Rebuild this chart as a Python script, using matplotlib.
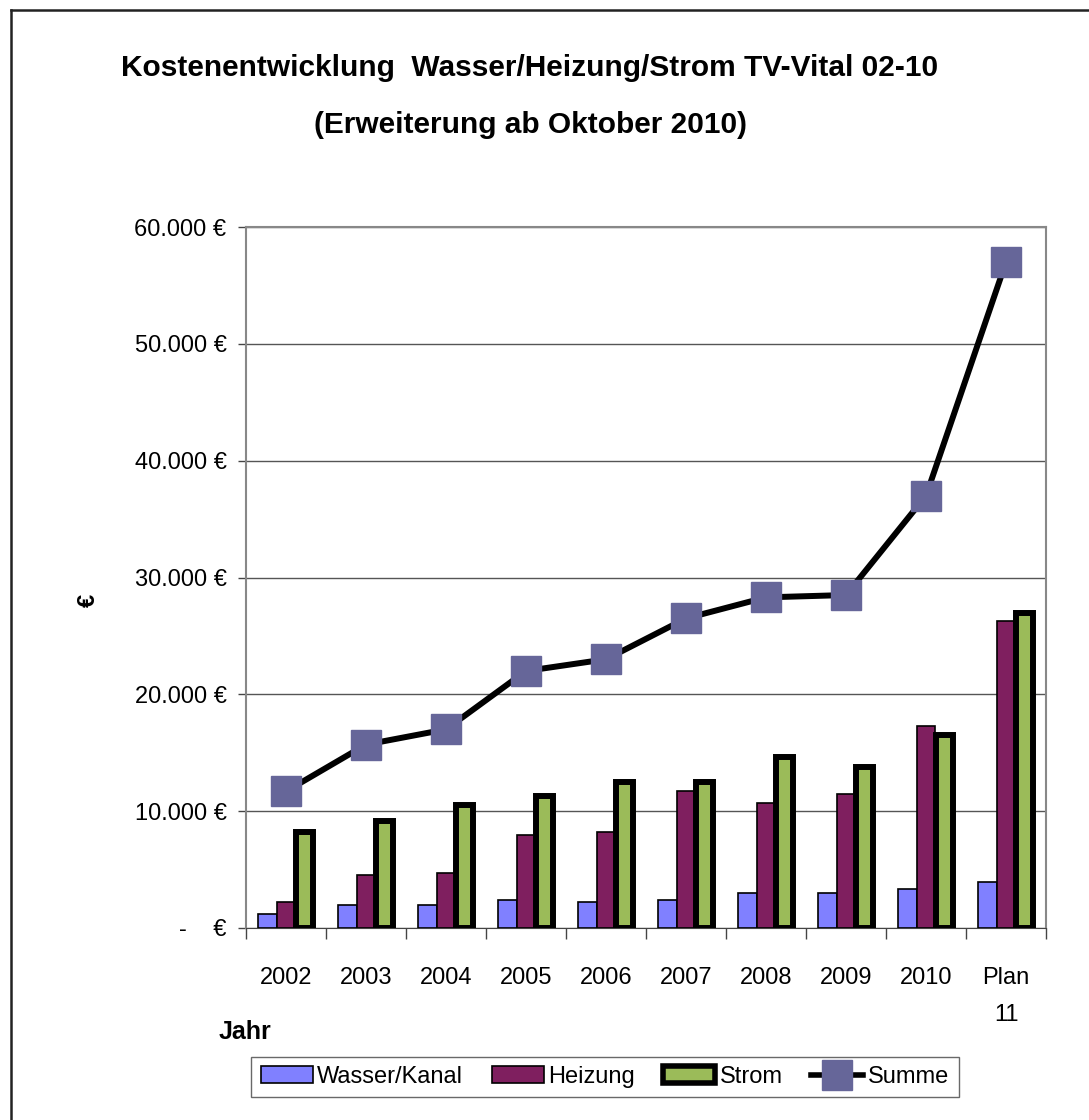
import matplotlib
matplotlib.use("Agg")
import matplotlib.pyplot as plt
from matplotlib import font_manager
from matplotlib.lines import Line2D
from matplotlib.patches import Patch
import numpy as np

# chart data
years = ["2002", "2003", "2004", "2005", "2006", "2007", "2008", "2009", "2010", "Plan\n11"]
wasser = [1200, 2000, 2000, 2400, 2200, 2400, 3000, 3000, 3300, 3900]
heizung = [2200, 4500, 4700, 8000, 8200, 11700, 10700, 11500, 17300, 26300]
strom = [8200, 9200, 10500, 11300, 12500, 12500, 14600, 13800, 16500, 27000]
summe = [11700, 15700, 17000, 22000, 23000, 26500, 28300, 28500, 37000, 57000]
yticks = [0, 10000, 20000, 30000, 40000, 50000, 60000]

names = {f.name for f in font_manager.fontManager.ttflist}
fontName = "Liberation Sans Narrow" if "Liberation Sans Narrow" in names else "Liberation Sans"
plt.rcParams['font.family'] = [fontName, 'DejaVu Sans']

fig = plt.figure(figsize=(10.89, 11.2), dpi=100)
ax = fig.add_axes([246 / 1089, 1 - 928 / 1120, 800 / 1089, 701 / 1120])

x = np.arange(len(years))
w = 0.235
ax.bar(x - w, wasser, w, color='#8080ff', edgecolor='black', linewidth=1.2, zorder=3, label='Wasser/Kanal')
ax.bar(x, heizung, w, color='#7f1f5f', edgecolor='black', linewidth=1.2, zorder=3, label='Heizung')
ax.bar(x + w, strom, w * 0.92, color='#9bbb59', edgecolor='black', linewidth=4.3, zorder=3, label='Strom')
ax.plot(x, summe, color='black', linewidth=4.3, marker='s', markersize=21,
        markerfacecolor='#666699', markeredgecolor='#666699', zorder=4, label='Summe')

ax.set_xlim(-0.5, len(years) - 0.5)
ax.set_ylim(0, 60000)
ax.set_yticks(yticks)
ax.set_yticklabels(["-    €"] + ["{:,} €".format(v).replace(",", ".") for v in yticks[1:]], fontsize=17)
ax.set_xticks(x)
ax.set_xticklabels(years, fontsize=17, linespacing=1.9, va='top')
ax.set_xticks(np.arange(len(years) + 1) - 0.5, minor=True)
ax.tick_params(axis='x', which='major', length=0, pad=28)
ax.tick_params(axis='x', which='minor', length=8, width=1, color='#444444')
ax.tick_params(axis='y', length=6, width=1, color='#444444', pad=8)
ax.grid(axis='y', color='#555555', linewidth=1, zorder=0)
for side in ['left', 'top', 'right']:
    ax.spines[side].set_color('#888888')
    ax.spines[side].set_linewidth(1.5)
ax.spines['bottom'].set_color('#444444')

fig.text(530 / 1089, 1 - 68 / 1120, "Kostenentwicklung  Wasser/Heizung/Strom TV-Vital 02-10",
         fontsize=21.5, fontweight='bold', ha='center', va='center')
fig.text(531 / 1089, 1 - 125 / 1120, "(Erweiterung ab Oktober 2010)",
         fontsize=21.5, fontweight='bold', ha='center', va='center')
fig.text(88 / 1089, 1 - 600 / 1120, "€", fontsize=17, fontweight='bold', rotation=90, ha='center', va='center')
fig.text(219 / 1089, 1 - 1032 / 1120, "Jahr", fontsize=18, fontweight='bold', ha='left', va='center')

handles = [Patch(facecolor='#8080ff', edgecolor='black', linewidth=1.2),
           Patch(facecolor='#7f1f5f', edgecolor='black', linewidth=1.2),
           Patch(facecolor='#9bbb59', edgecolor='black', linewidth=4),
           Line2D([], [], color='black', linewidth=4, marker='s', markersize=21,
                  markerfacecolor='#666699', markeredgecolor='#666699')]
leg = fig.legend(handles, ['Wasser/Kanal', 'Heizung', 'Strom', 'Summe'], loc='center',
                 bbox_to_anchor=(605 / 1089, 1 - 1077 / 1120), ncol=4, fontsize=17,
                 frameon=True, fancybox=False, edgecolor='#444444', handlelength=2.2,
                 handletextpad=0.2, columnspacing=1.2, borderpad=0.4)
leg.get_frame().set_linewidth(1)

# outer frame: only left and top edges show in the reference
fig.add_artist(Line2D([10.5 / 1089, 10.5 / 1089], [0, 1 - 10 / 1120], color='#222222', linewidth=1.8))
fig.add_artist(Line2D([10.5 / 1089, 1], [1 - 10 / 1120, 1 - 10 / 1120], color='#222222', linewidth=1.8))

fig.savefig("out.png", dpi=100)
